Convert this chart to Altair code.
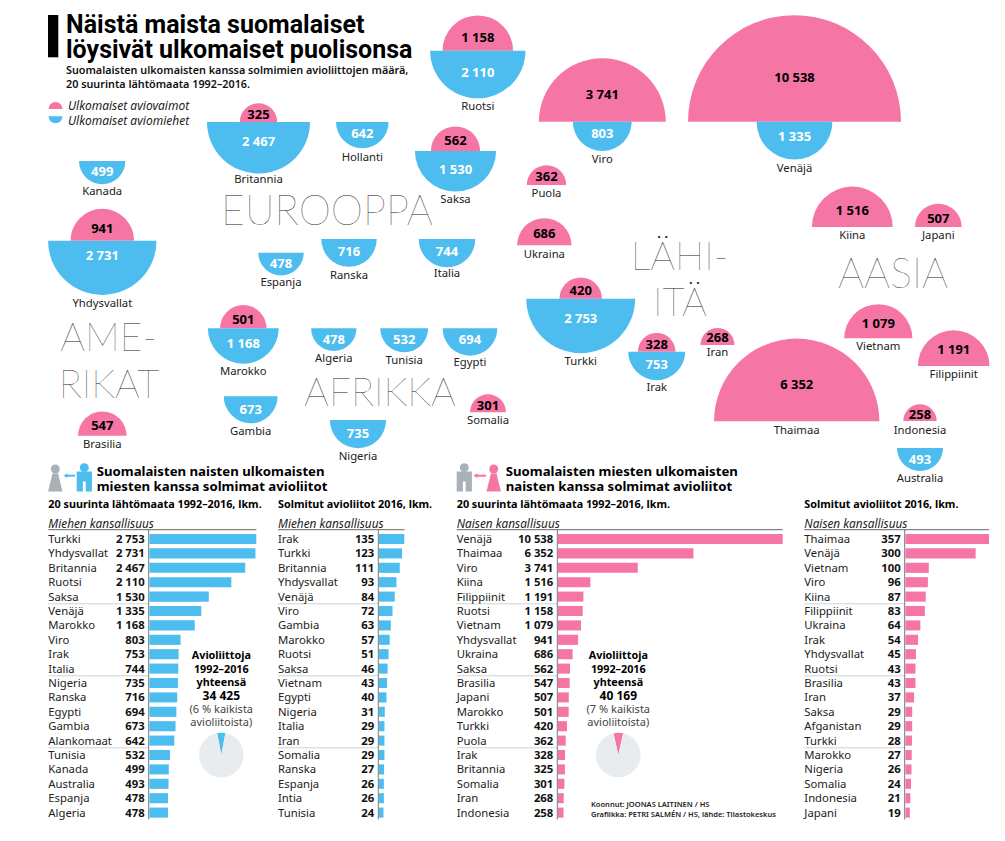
import math
import altair as alt
import pandas as pd

PINK = "#f576a5"
BLUE = "#4dbdf0"
INK = "#111111"
FONT = "Noto Sans"
LX = alt.Scale(domain=[8, 997], range=[0, 989])
LY = alt.Scale(domain=[8, 833], range=[0, 825])

# ---- bubbles ----
COUNTRIES = ["Ruotsi","Viro","Venäjä","Britannia","Hollanti","Saksa","Kanada","Yhdysvallat","Espanja","Ranska","Italia",
             "Marokko","Algeria","Tunisia","Egypti","Gambia","Nigeria","Brasilia","Somalia","Puola","Ukraina","Turkki",
             "Irak","Iran","Thaimaa","Vietnam","Filippiinit","Indonesia","Australia","Kiina","Japani"]
WIVES = [1158,3741,10538,325,None,562,None,941,None,None,None,501,None,None,None,None,None,547,301,362,686,420,328,268,6352,1079,1191,258,None,1516,507]
HUSBANDS = [2110,803,1335,2467,642,1530,499,2731,478,716,744,1168,478,532,694,673,735,None,None,None,None,2753,753,None,None,None,None,None,493,None,None]
# layout in reference pixels
BX = [477.8,602.3,794.5,258.5,362.3,455.5,102.2,102.3,281,349,447,243.3,333.8,404.2,470,250.7,358,102.3,488,546.5,544.3,580.7,656.7,717.5,796.7,878.3,953.7,920,920,852.3,938.3]
BASE = [50.7,121.7,121.7,122,122,151,161,240.7,252.7,239,239,328.3,328.3,328.3,328.3,396.3,420,435.7,412.3,185,245.3,298.7,351.7,345,421.3,338.3,366,421,448,227,227]
W_Y = [36.7,94,77.3,114,None,140.3,None,228.3,None,None,None,318.7,None,None,None,None,None,425,405,175.7,233,290,343.7,337.3,384,323.3,349,414,None,210,218]
M_Y = [71.7,133,136,140.7,132.7,168.7,170.7,255.3,262.7,251.3,250.7,343.3,339.3,339.3,339.3,409.3,433.3,None,None,None,None,318.3,364,None,None,None,None,None,458.7,None,None]
NAME_Y = [106,159.3,167.7,179.3,156.7,199.3,191,302.7,282,275.3,273.3,371.3,358,360,362.3,431,456,443.7,420.3,193.3,254,360.7,386.7,352,430,346,374,430,477.7,235.3,235.3]

# ---- bar panels ----
M_ALL_N = ["Turkki","Yhdysvallat","Britannia","Ruotsi","Saksa","Venäjä","Marokko","Viro","Irak","Italia","Nigeria","Ranska","Egypti","Gambia","Alankomaat","Tunisia","Kanada","Australia","Espanja","Algeria"]
M_ALL_V = [2753,2731,2467,2110,1530,1335,1168,803,753,744,735,716,694,673,642,532,499,493,478,478]
M_16_N = ["Irak","Turkki","Britannia","Yhdysvallat","Venäjä","Viro","Gambia","Marokko","Ruotsi","Saksa","Vietnam","Egypti","Nigeria","Italia","Iran","Somalia","Ranska","Espanja","Intia","Tunisia"]
M_16_V = [135,123,111,93,84,72,63,57,51,46,43,40,31,29,29,29,27,26,26,24]
W_ALL_N = ["Venäjä","Thaimaa","Viro","Kiina","Filippiinit","Ruotsi","Vietnam","Yhdysvallat","Ukraina","Saksa","Brasilia","Japani","Marokko","Turkki","Puola","Irak","Britannia","Somalia","Iran","Indonesia"]
W_ALL_V = [10538,6352,3741,1516,1191,1158,1079,941,686,562,547,507,501,420,362,328,325,301,268,258]
W_16_N = ["Thaimaa","Venäjä","Vietnam","Viro","Kiina","Filippiinit","Ukraina","Irak","Yhdysvallat","Ruotsi","Brasilia","Iran","Saksa","Afganistan","Turkki","Marokko","Nigeria","Somalia","Indonesia","Japani"]
W_16_V = [357,300,100,96,87,83,64,54,45,43,43,37,29,29,28,27,26,24,21,19]
PIE_SHARES = [6, 7]


def fmt(v):
    return f"{v:,}".replace(",", " ")


def lxf(f="px"):
    return alt.X(f"{f}:Q", scale=LX, axis=None, stack=None)


def lyf(f="py"):
    return alt.Y(f"{f}:Q", scale=LY, axis=None, stack=None)


def texts(rows, size, weight=400, style="normal", color=INK, align="left", font=FONT, dy=1):
    df = pd.DataFrame(rows, columns=["t", "px", "py"])
    return alt.Chart(df).mark_text(align=align, baseline="middle", fontSize=size, fontWeight=weight, dy=dy,
                                   fontStyle=style, color=color, font=font).encode(
        x=lxf(), y=lyf(), text=alt.Text("t:N"))


def semis(vals, color, top):
    df = pd.DataFrame(vals, columns=["v", "px", "py"])
    t1, t2 = (1.5 * math.pi, 2.5 * math.pi) if top else (0.5 * math.pi, 1.5 * math.pi)
    return alt.Chart(df).mark_arc(theta=t1, theta2=t2, color=color).encode(
        x=lxf(), y=lyf(),
        radius=alt.Radius("v:Q", stack=None, scale=alt.Scale(type="sqrt", domain=[0, 10538], range=[0, 106.5])))


def rects(rows, color):
    df = pd.DataFrame(rows, columns=["px", "px2", "py", "py2"])
    return alt.Chart(df).mark_rect(color=color).encode(x=lxf(), x2=alt.X2("px2:Q"), y=lyf(), y2=alt.Y2("py2:Q"))


def rules(rows, color, w=1):
    df = pd.DataFrame(rows, columns=["px", "px2", "py", "py2"])
    return alt.Chart(df).mark_rule(color=color, strokeWidth=w).encode(x=lxf(), x2=alt.X2("px2:Q"), y=lyf(), y2=alt.Y2("py2:Q"))


def glyph(path, size, color, px, py):
    df = pd.DataFrame({"px": [px], "py": [py]})
    return alt.Chart(df).mark_point(shape=path, size=size, filled=True, opacity=1, color=color, stroke=None).encode(x=lxf(), y=lyf())


def head(color, px, py):
    return glyph("circle", 80, color, px, py)


Y0, Y1 = 531.8, 819.8


def panel(names, values, axis_px, end_px, name_px, color):
    df = pd.DataFrame({"n": names, "v": values, "z": [0] * len(names), "lab": [fmt(v) for v in values]})
    xs = alt.Scale(domain=[0, max(values)], range=[axis_px - 8 + 0.7, end_px - 8])
    ys = alt.Scale(domain=names, range=[Y0 - 8, Y1 - 8], paddingInner=0.3, paddingOuter=0.15)
    y = alt.Y("n:N", sort=names, scale=ys, axis=None)
    bars = alt.Chart(df).mark_bar(color=color).encode(x=alt.X("v:Q", scale=xs, axis=None), y=y)
    zx = alt.X("z:Q", scale=xs, axis=None)
    nm = alt.Chart(df).mark_text(align="left", baseline="middle", fontSize=11.3, font=FONT, color="#222", dy=1,
                                 dx=name_px - axis_px - 0.7).encode(x=zx, y=y, text="n:N")
    vl = alt.Chart(df).mark_text(align="right", baseline="middle", fontSize=11.3, fontWeight="bold", font=FONT, color=INK, dy=1,
                                 dx=-4.7).encode(x=zx, y=y, text="lab:N")
    return alt.layer(bars, nm, vl)


def pie(share, color, cx, cy):
    df = pd.DataFrame({"s": [share, 100 - share], "o": [0, 1], "c": [color, "#e8ecee"]})
    a = 2 * math.pi - share / 100 * math.pi
    return alt.Chart(df).mark_arc(outerRadius=22.3).encode(
        x=alt.value(cx - 8), y=alt.value(cy - 8),
        theta=alt.Theta("s:Q", stack=True, scale=alt.Scale(domain=[0, 100], range=[a, a + 2 * math.pi])),
        order=alt.Order("o:Q"),
        color=alt.Color("c:N", scale=None))


MAN = "M-0.38,-0.5 L0.38,-0.5 L0.38,0.5 L0.07,0.5 L0.07,0 L-0.07,0 L-0.07,0.5 L-0.38,0.5 Z"
WOMAN = "M-0.14,-0.45 L0.14,-0.45 L0.36,0.45 L-0.36,0.45 Z"
GRAY = "#a9b1b6"

layers = []
# title block
layers.append(rects([(48, 58.3, 15, 57.3)], "#000"))
layers.append(texts([("Näistä maista suomalaiset", 66, 24.5), ("löysivät ulkomaiset puolisonsa", 66, 49.5)], 25, "bold", color="#000", font="Roboto", dy=0))
layers.append(texts([("Suomalaisten ulkomaisten kanssa solmimien avioliittojen määrä,", 66, 70.3), ("20 suurinta lähtömaata 1992–2016.", 66, 84)], 10.8, 600))
layers.append(semis([(45, 55.5, 109)], PINK, True))
layers.append(semis([(45, 55.5, 116.3)], BLUE, False))
layers.append(texts([("Ulkomaiset aviovaimot", 68, 105), ("Ulkomaiset aviomiehet", 68, 120)], 12, style="italic", color="#222"))

# bubbles
layers.append(semis([(w, x, b) for w, x, b in zip(WIVES, BX, BASE) if w], PINK, True))
layers.append(semis([(m, x, b) for m, x, b in zip(HUSBANDS, BX, BASE) if m], BLUE, False))
layers.append(texts([(fmt(w), x, y) for w, x, y in zip(WIVES, BX, W_Y) if w], 13, "bold", align="center", color="#000"))
layers.append(texts([(fmt(m), x, y) for m, x, y in zip(HUSBANDS, BX, M_Y) if m], 13, "bold", align="center", color="#fff"))
layers.append(texts(list(zip(COUNTRIES, BX, NAME_Y)), 11.3, align="center", color="#222"))

# region labels
THIN = dict(weight=100, font="Lato", align="center", color="#222")
layers.append(texts([("EUROOPPA", 327, 212), ("AASIA", 893, 274.5)], 41, **THIN))
layers.append(texts([("AME-", 108.5, 338), ("RIKAT", 109, 385), ("AFRIKKA", 380, 392.5),
                     ("LÄHI-", 679.5, 257), ("ITÄ", 680, 303)], 39, **THIN))

# lower headings
layers.append(texts([("Suomalaisten naisten ulkomaisten", 96.7, 471), ("miesten kanssa solmimat avioliitot", 96.7, 486),
                     ("Suomalaisten miesten ulkomaisten", 505.7, 471), ("naisten kanssa solmimat avioliitot", 505.7, 486)], 13.2, "bold", color="#000"))
layers.append(texts([("20 suurinta lähtömaata 1992–2016, lkm.", 48.3, 504.3), ("Solmitut avioliitot 2016, lkm.", 278, 504.3),
                     ("20 suurinta lähtömaata 1992–2016, lkm.", 456.7, 504.3), ("Solmitut avioliitot 2016, lkm.", 804.3, 504.3)], 10.8, "bold", color="#000"))
layers.append(texts([("Miehen kansallisuus", 48.3, 522.7), ("Miehen kansallisuus", 278, 522.7),
                     ("Naisen kansallisuus", 456.7, 522.7), ("Naisen kansallisuus", 804.3, 522.7)], 11.8, style="italic", color="#222"))
layers.append(rules([(48.3, 256.3, 529.7, 529.7), (278, 404.5, 529.7, 529.7), (456.7, 782.7, 529.7, 529.7), (804.3, 989, 529.7, 529.7)], "#666"))
seps = []
for y in (Y0 + 72, Y0 + 144, Y0 + 216):
    seps += [(48.3, 148.7, y, y), (278, 378.3, y, y), (456.7, 557.3, y, y), (804.3, 904.7, y, y)]
layers.append(rules(seps, "#cfd3d6"))
layers.append(rules([(a, a, 530, 819.5) for a in (148.7, 378.3, 557.3, 904.7)], "#777"))

layers.append(panel(M_ALL_N, M_ALL_V, 148.7, 256.3, 48.3, BLUE))
layers.append(panel(M_16_N, M_16_V, 378.3, 404.3, 278, BLUE))
layers.append(panel(W_ALL_N, W_ALL_V, 557.3, 782.7, 456.7, PINK))
layers.append(panel(W_16_N, W_16_V, 904.7, 989, 804.3, PINK))

# icons
layers.append(head(GRAY, 55.3, 469))
layers.append(glyph(WOMAN, 1600, GRAY, 55.3, 482.5))
layers.append(head(BLUE, 84.3, 467.7))
layers.append(glyph(MAN, 1600, BLUE, 84.3, 481.5))
layers.append(rules([(66, 75, 475.7, 475.7)], BLUE, 2))
layers.append(glyph("triangle-left", 22, BLUE, 65.5, 475.7))
layers.append(head(GRAY, 464.3, 467.7))
layers.append(glyph(MAN, 1600, GRAY, 464.3, 481.5))
layers.append(head(PINK, 493.7, 469))
layers.append(glyph(WOMAN, 1600, PINK, 493.7, 482.5))
layers.append(rules([(476, 486, 475.7, 475.7)], PINK, 2))
layers.append(glyph("triangle-left", 22, PINK, 475.5, 475.7))

# totals
for cx, total, share, col in ((221.3, 34425, PIE_SHARES[0], BLUE), (618.3, 40169, PIE_SHARES[1], PINK)):
    layers.append(texts([("Avioliittoja", cx, 654.7), ("1992–2016", cx, 669), ("yhteensä", cx, 682.3)], 10.8, "bold", align="center", color="#000"))
    layers.append(texts([(fmt(total), cx, 695)], 12, "bold", align="center", color="#000"))
    layers.append(texts([(f"({share} % kaikista", cx, 708.7), ("avioliitoista)", cx, 721.7)], 11, align="center", color="#444"))
    layers.append(pie(share, col, cx, 755))

layers.append(texts([("Koonnut: JOONAS LAITINEN / HS", 591, 804), ("Grafiikka: PETRI SALMÉN / HS, lähde: Tilastokeskus", 591, 814)], 7.5, 600, color="#222"))

chart = alt.layer(*layers).resolve_scale(x="independent", y="independent", theta="independent",
                                         radius="independent", color="independent").properties(
    width=989, height=825, padding=0, autosize=alt.AutoSizeParams(type="none")
).configure_view(stroke=None)

chart.save("out.html", embed_options={"renderer": "svg", "actions": False})
